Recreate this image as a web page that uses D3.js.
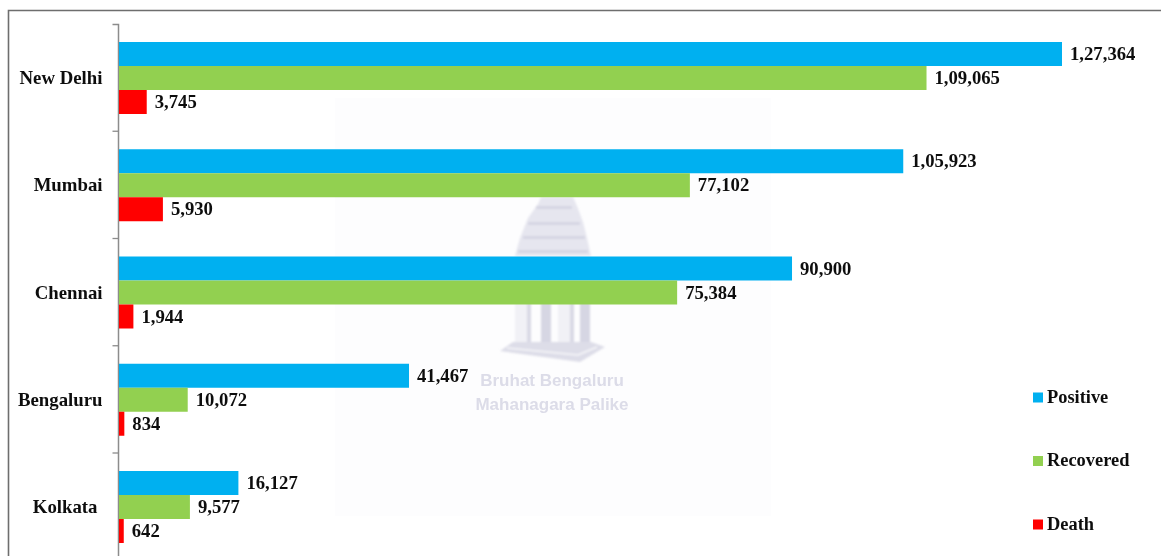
<!DOCTYPE html>
<html><head><meta charset="utf-8">
<script src="https://cdn.jsdelivr.net/npm/d3@7/dist/d3.min.js"></script>
<style>html,body{margin:0;padding:0;background:#fff}svg{display:block}</style>
</head><body><div id="chart"></div>
<script>
const categories = ["New Delhi","Mumbai","Chennai","Bengaluru","Kolkata"];
// bar lengths (the Bengaluru bars are drawn shorter than their printed labels)
const positive = [127364,105923,90900,39170,16127];
const recovered = [109065,77102,75384,9280,9577];
const death = [3745,5930,1944,720,642];
// figures as printed beside the bars
const positiveLabels = ["1,27,364","1,05,923","90,900","41,467","16,127"];
const recoveredLabels = ["1,09,065","77,102","75,384","10,072","9,577"];
const deathLabels = ["3,745","5,930","1,944","834","642"];
const seriesNames = ["Positive","Recovered","Death"];
const seriesColors = ["#00B0F0","#92D050","#FF0000"];
const seriesValues = [positive,recovered,death];
const seriesLabels = [positiveLabels,recoveredLabels,deathLabels];

const W=1161,H=556;
const font='"Liberation Serif","Times New Roman",serif';
const svg=d3.select("#chart").append("svg").attr("width",W).attr("height",H);
const defs=svg.append("defs");
defs.append("filter").attr("id","soft").append("feGaussianBlur").attr("stdDeviation",0.4);
defs.append("filter").attr("id","softer").append("feGaussianBlur").attr("stdDeviation",0.9);

// page frame
svg.append("path").attr("d",`M8.5,${H}V10.5H${W}`).attr("fill","none").attr("stroke","#6e6e6e").attr("stroke-width",1.6);

// watermark
const wm=svg.append("g");
wm.append("rect").attr("x",335).attr("y",98).attr("width",436).attr("height",418).attr("fill","#fdfdfe");
const wg=wm.append("g").attr("filter","url(#softer)");
wg.append("path").attr("fill","#e6e6ef").attr("d","M515,256L520,238L528,218L538,204L541,197L573,197L577,206L583,222L587,238L591,256Z");
[[536,206,36],[528,222,52],[523,236,62],[518,250,70]].forEach(b=>
  wg.append("rect").attr("x",b[0]).attr("y",b[1]).attr("width",b[2]).attr("height",3).attr("fill","#d6d6e3"));
[[515,12,"#f1f1f6"],[527,4,"#d9d9e5"],[541,10,"#d6d6e3"],[558,12,"#f1f1f6"],[570,4,"#d9d9e5"],[580,10,"#d6d6e3"]].forEach(p=>
  wg.append("rect").attr("x",p[0]).attr("y",303).attr("width",p[1]).attr("height",40).attr("fill",p[2]));
wg.append("path").attr("fill","#dddde8").attr("d","M513,342H591L605,347L580,362L500,351Z");
wg.append("path").attr("fill","none").attr("stroke","#f7f7fa").attr("stroke-width",1.5).attr("d","M507,348L578,355L597,347");
wm.selectAll("text.wm").data(["Bruhat Bengaluru","Mahanagara Palike"]).join("text")
  .attr("x",552).attr("y",(d,i)=>386+i*23.5).attr("text-anchor","middle")
  .attr("font-family","Liberation Sans, Arial, sans-serif").attr("font-weight","bold").attr("font-size",17)
  .attr("fill","#dcdce8").attr("filter","url(#soft)").text(d=>d);

// scales
const x=d3.scaleLinear().domain([0,127364]).range([119,1062]);
const y=d3.scaleBand().domain(categories).range([24,560.25]);
const inner=d3.scaleBand().domain(seriesNames).range([18,y.bandwidth()-17.25]);

// axis
const axis=svg.append("g").attr("transform","translate(118.5,0)")
  .call(d3.axisLeft(y).tickSize(0).tickPadding(16));
axis.select(".domain").attr("d",`M-6,24.5H0V${H}`).attr("stroke","#8c8c8c").attr("stroke-width",1.5).attr("fill","none");
axis.selectAll("text").attr("font-family",font).attr("font-weight","bold").attr("font-size",18.8).attr("fill","#111")
  .attr("dy","0.35em").attr("dx",d=>d==="Kolkata"?-5:0).attr("filter","url(#soft)");
axis.selectAll("line.bt").data(categories.slice(1)).join("line").attr("class","bt")
  .attr("x1",-6).attr("x2",0).attr("y1",d=>y(d)).attr("y2",d=>y(d)).attr("stroke","#8c8c8c").attr("stroke-width",1.3);

// bars and labels
const g=svg.selectAll("g.series").data(seriesNames).join("g").attr("class","series");
g.each(function(s,si){
  const sel=d3.select(this);
  sel.selectAll("rect").data(categories).join("rect")
    .attr("x",x(0)).attr("y",c=>y(c)+inner(s))
    .attr("width",(c,i)=>x(seriesValues[si][i])-x(0))
    .attr("height",inner.bandwidth())
    .attr("fill",seriesColors[si]);
  sel.selectAll("text").data(categories).join("text")
    .attr("x",(c,i)=>x(seriesValues[si][i])+8)
    .attr("y",c=>y(c)+inner(s)+inner.bandwidth()/2+6)
    .attr("font-family",font).attr("font-weight","bold").attr("font-size",18.7).attr("fill","#111")
    .attr("filter","url(#soft)")
    .text((c,i)=>seriesLabels[si][i]);
});

// legend
const legendY=d3.scalePoint().domain(seriesNames).range([397.5,524.5]);
const lg=svg.selectAll("g.leg").data(seriesNames).join("g").attr("class","leg")
  .attr("transform",d=>`translate(1033,${legendY(d)})`);
lg.append("rect").attr("x",0).attr("y",-5).attr("width",10).attr("height",10).attr("fill",(d,i)=>seriesColors[i]);
lg.append("text").attr("x",14).attr("y",5).attr("font-family",font).attr("font-weight","bold").attr("font-size",18.4).attr("fill","#111").attr("filter","url(#soft)").text(d=>d);
</script></body></html>
